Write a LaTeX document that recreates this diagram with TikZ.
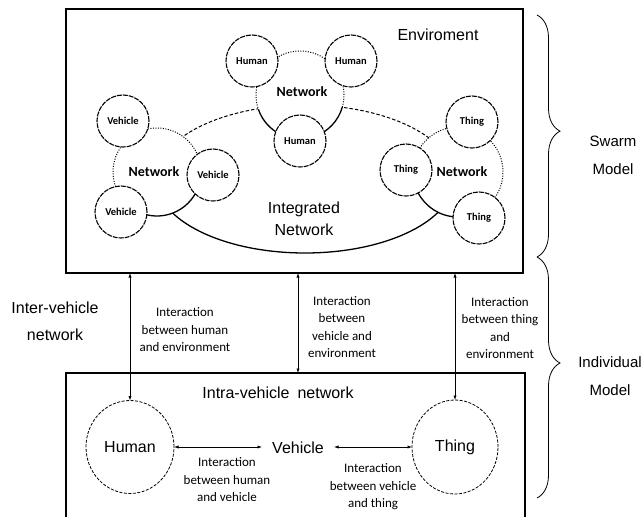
\documentclass[tikz,border=0pt]{standalone}
\usepackage{fontspec}
\setmainfont{Liberation Sans}
\newfontfamily\carl{Carlito}
\usetikzlibrary{arrows.meta,shapes.geometric,decorations.pathreplacing}
\begin{document}
\begin{tikzpicture}[x=1pt,y=1pt,
  big/.style={font=\fontsize{16}{19}\selectfont},
  side/.style={font=\fontsize{15}{28}\selectfont, align=center},
  lab/.style={font=\carl\fontsize{13}{17.5}\selectfont, align=center, inner sep=0pt},
  smallc/.style={circle, draw, fill=white, minimum size=52pt, inner sep=0pt, outer sep=0pt,
    line width=1.1pt, dash pattern=on 5pt off 1pt, font=\carl\bfseries\fontsize{10.5}{12}\selectfont},
  netc/.style={circle, fill=white, minimum size=#1, inner sep=0pt, outer sep=0pt},
  nettext/.style={font=\carl\bfseries\fontsize{14}{16}\selectfont},
  dotarc/.style={line width=1pt, dash pattern=on 1pt off 1.5pt},
  dasharc/.style={line width=1pt, dash pattern=on 3.5pt off 2pt},
  solarc/.style={line width=1.3pt},
  link/.style={line width=0.75pt, {Latex[length=4.5pt,width=3.2pt]}-{Latex[length=4.5pt,width=3.2pt]}},
  bigell/.style={ellipse, draw, line width=0.8pt, dash pattern=on 3pt off 1.5pt, inner sep=0pt, outer sep=0pt, font=\fontsize{16}{19}\selectfont},
  boxline/.style={draw, line width=1.4pt, inner sep=0pt, outer sep=0pt},
  bracestyle/.style={decorate, line width=0.8pt}
]
\useasboundingbox (0,0) rectangle (644,-516);
\clip (0,0) rectangle (644,-516);

% environment box
\node[boxline, minimum width=457pt, minimum height=264pt] (env) at (294.5,-141) {};
\node[big] (envt) at (438,-35) {Enviroment};

% integrated network ellipse
\node[ellipse, minimum width=298pt, minimum height=148pt, inner sep=0pt, outer sep=0pt] (integ) at (305,-179) {};
\draw[dasharc] (integ.0) arc[start angle=0, end angle=180, x radius=149pt, y radius=74pt];
\draw[solarc] (integ.180) arc[start angle=180, end angle=360, x radius=149pt, y radius=74pt];
\node[font=\fontsize{16}{22}\selectfont, align=center] (integt) at (304,-219) {Integrated\\Network};

% network circles
\node[netc=88pt] (hnet) at (300,-95) {};
\node[netc=88pt] (vnet) at (157,-172) {};
\node[netc=90pt] (tnet) at (458,-172) {};
\draw[dotarc] (hnet.-16) arc[start angle=-16, end angle=199, radius=44pt];
\draw[solarc] (hnet.199) arc[start angle=199, end angle=344, radius=44pt];
\draw[dotarc] (vnet.-20) arc[start angle=-20, end angle=200, radius=44pt];
\draw[solarc] (vnet.200) arc[start angle=200, end angle=340, radius=44pt];
\draw[dotarc] (tnet.-60) arc[start angle=-60, end angle=200, radius=45pt];
\draw[solarc] (tnet.200) arc[start angle=200, end angle=300, radius=45pt];

% member circles
\node[smallc] (h1) at (252,-61) {Human};
\node[smallc] (h2) at (351,-61) {Human};
\node[smallc] (h3) at (300,-141) {Human};
\node[smallc] (v1) at (123,-121) {Vehicle};
\node[smallc] (v2) at (213,-175) {Vehicle};
\node[smallc] (v3) at (121,-212) {Vehicle};
\node[smallc] (t1) at (472,-122) {Thing};
\node[smallc] (t2) at (406,-170) {Thing};
\node[smallc] (t3) at (479,-218) {Thing};
\node[nettext] (hnett) at (302,-92) {Network};
\node[nettext] (vnett) at (154,-172) {Network};
\node[nettext] (tnett) at (462,-172) {Network};

% intra-vehicle box
\node[boxline, minimum width=459pt, minimum height=200pt, anchor=north west] (intra) at (66,-373) {};
\node[big] (intrat) at (278,-393) {Intra-vehicle\hspace{0.5em}network};
\node[bigell, minimum width=88pt, minimum height=93pt] (hum) at (130,-447) {Human};
\node[bigell, minimum width=86pt, minimum height=94pt] (thg) at (455,-447) {Thing};
\node[big, inner xsep=10pt] (veh) at (298,-448) {Vehicle};

% connectors
\draw[link] (hum.east) -- (hum.east -| veh.west);
\draw[link] (thg.west -| veh.east) -- (thg.west);
\draw[link] (env.south -| hum.north) -- (hum.north);
\draw[link] (env.south -| veh.north) -- (intra.north -| veh.north);
\draw[link] (env.south -| thg.north) -- (thg.north);

% labels
\node[lab] (l1) at (185,-330) {Interaction\\between human\\and environment};
\node[lab] (l2) at (342,-327) {Interaction\\between\\vehicle and\\environment};
\node[lab] (l3) at (500,-328) {Interaction\\between thing\\and\\environment};
\node[lab] (l4) at (227,-480) {Interaction\\between human\\and vehicle};
\node[lab] (l5) at (373,-487) {Interaction\\between vehicle\\and thing};
\node[font=\fontsize{16}{27}\selectfont, align=center] (inter) at (55,-321) {Inter-vehicle\\network};

% braces
\coordinate (b1) at (537,-15);
\coordinate (b2) at (537,-257);
\coordinate (b3) at (537,-498);
\draw[bracestyle, decoration={brace, amplitude=23pt, aspect=0.48}] (b1) -- (b2);
\draw[bracestyle, decoration={brace, amplitude=23pt, aspect=0.44}] (b2) -- (b3);
\node[side] (swarm) at (613,-155) {Swarm\\Model};
\node[side] (indiv) at (610,-376) {Individual\\Model};
\end{tikzpicture}
\end{document}
